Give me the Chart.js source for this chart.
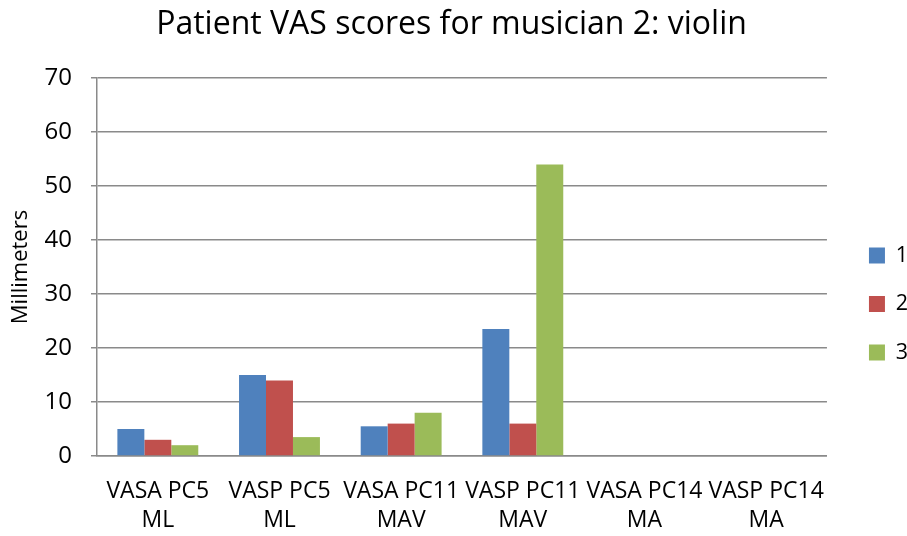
<!DOCTYPE html>
<html>
<head>
<meta charset="utf-8">
<script src="https://cdn.jsdelivr.net/npm/chart.js@4"></script>
<style>
  html, body { margin: 0; padding: 0; background: #fff; }
  #wrap { width: 907px; height: 536px; }
</style>
</head>
<body>
<div id="wrap"><canvas id="vasChart"></canvas></div>
<script>
// VAS scores per session, in millimeters
var categories = [
  ["VASA PC5", "ML"],
  ["VASP PC5", "ML"],
  ["VASA PC11", "MAV"],
  ["VASP PC11", "MAV"],
  ["VASA PC14", "MA"],
  ["VASP PC14", "MA"]
];
var session1 = [5, 15, 5.5, 23.5, 0, 0];
var session2 = [3, 14, 6, 6, 0, 0];
var session3 = [2, 3.5, 8, 54, 0, 0];
var seriesNames = ["1", "2", "3"];
var seriesColors = ["#4F81BD", "#C0504D", "#9BBB59"];

Chart.defaults.font.family = "'Open Sans', 'Liberation Sans', sans-serif";
Chart.defaults.color = "#000";

// push the legend a bit right and down, next to the middle of the plot
var legendNudge = {
  id: "legendNudge",
  afterLayout: function (chart) {
    var lg = chart.legend;
    lg.left += 15; lg.right += 15;
    lg.top += 36; lg.bottom += 36;
  }
};

var ctx = document.getElementById("vasChart").getContext("2d");
var chart = new Chart(ctx, {
  type: "bar",
  data: {
    labels: categories,
    datasets: [session1, session2, session3].map(function (vals, i) {
      return {
        label: seriesNames[i],
        data: vals,
        backgroundColor: seriesColors[i],
        borderWidth: 0,
        categoryPercentage: 0.665,
        barPercentage: 1
      };
    })
  },
  options: {
    responsive: true,
    maintainAspectRatio: false,
    animation: false,
    layout: { padding: { left: 0, right: 4, top: 0, bottom: 0 } },
    plugins: {
      title: {
        display: true,
        text: "Patient VAS scores for musician 2: violin",
        font: { size: 32, weight: "normal" },
        color: "#000",
        padding: { top: 6, bottom: 33.6 }
      },
      legend: {
        position: "right",
        labels: {
          boxWidth: 16,
          boxHeight: 16,
          padding: 27,
          font: { size: 21.5 }
        }
      },
      tooltip: { enabled: false }
    },
    scales: {
      x: {
        grid: { display: false, drawTicks: false },
        border: { display: true, color: "#8a8a8a", width: 1.5 },
        ticks: {
          font: { size: 23, lineHeight: 1.26 },
          padding: 21,
          autoSkip: false,
          maxRotation: 0,
          minRotation: 0
        },
        afterFit: function (scale) { scale.height = 80; }
      },
      y: {
        min: 0,
        max: 70,
        ticks: { stepSize: 10, font: { size: 24 }, padding: 19 },
        grid: { color: "#8a8a8a", lineWidth: 1.5, tickLength: 6 },
        border: { display: true, color: "#8a8a8a", width: 1.5 },
        title: {
          display: true,
          text: "Millimeters",
          font: { size: 22 },
          padding: { top: 8, bottom: 0 }
        },
        afterFit: function (scale) { scale.width = 97; }
      }
    }
  },
  plugins: [legendNudge]
});
</script>
</body>
</html>
